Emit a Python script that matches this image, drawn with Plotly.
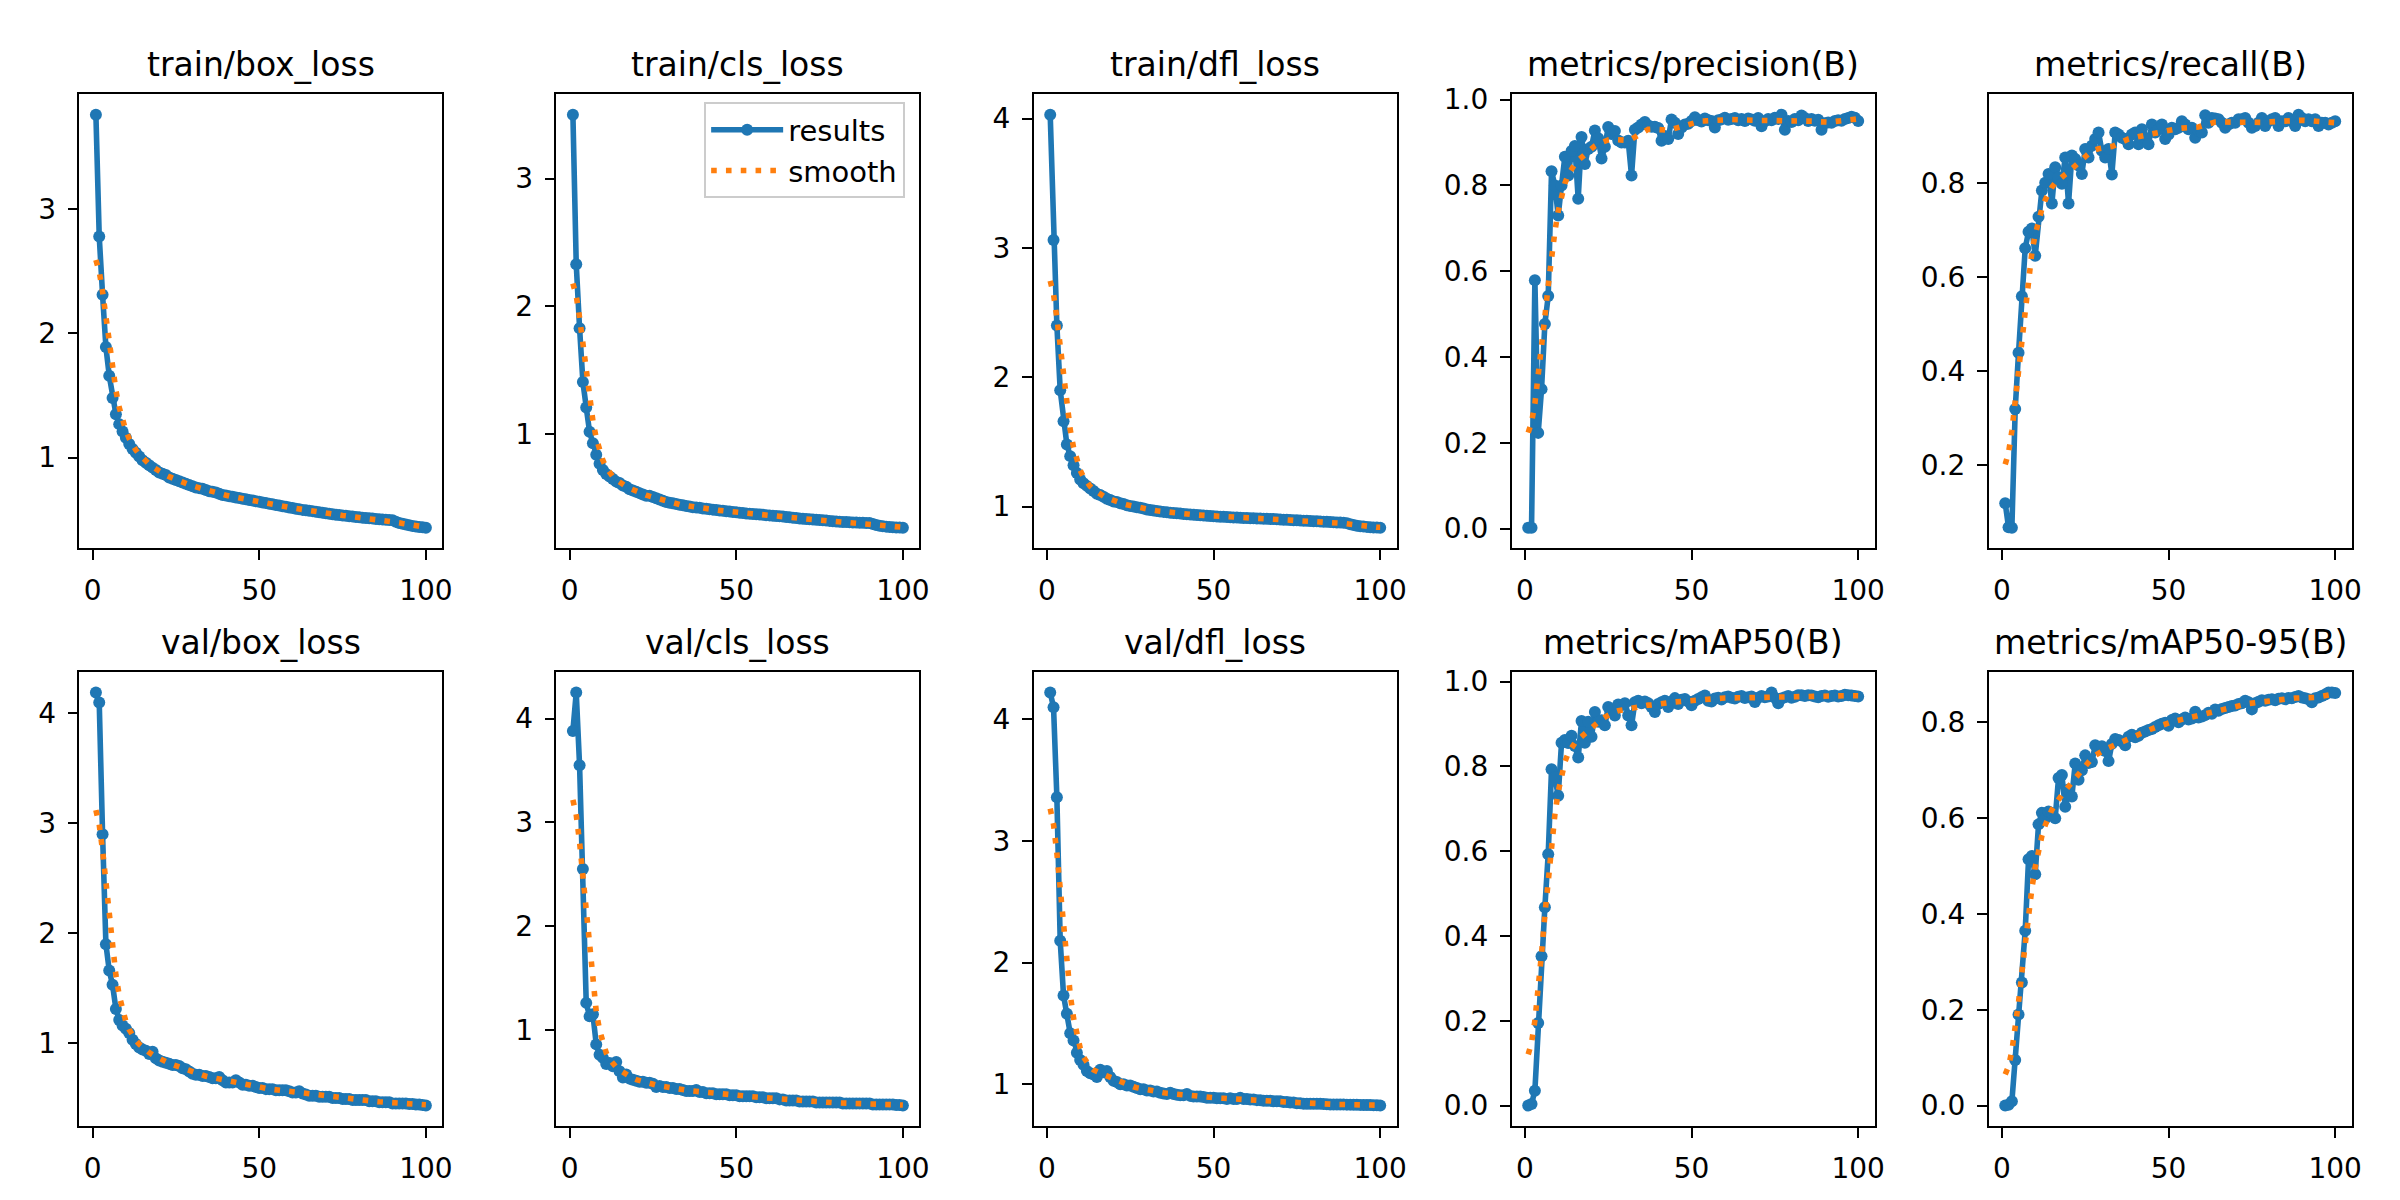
import numpy as np
import plotly.graph_objects as go

# epochs and per-epoch values
epochs = list(range(1, 101))

train_box_loss = [
    3.76, 2.78, 2.31, 1.89, 1.66, 1.48, 1.35, 1.27, 1.21, 1.16,
    1.11, 1.07, 1.04, 1.01, 0.98, 0.96, 0.94, 0.92, 0.90, 0.88,
    0.87, 0.86, 0.84, 0.83, 0.82, 0.81, 0.80, 0.79, 0.78, 0.77,
    0.76, 0.755, 0.75, 0.74, 0.73, 0.725, 0.72, 0.71, 0.70, 0.695,
    0.69, 0.685, 0.68, 0.675, 0.67, 0.665, 0.66, 0.655, 0.65, 0.645,
    0.64, 0.635, 0.63, 0.625, 0.62, 0.615, 0.61, 0.605, 0.60, 0.595,
    0.59, 0.585, 0.58, 0.577, 0.573, 0.57, 0.565, 0.56, 0.556, 0.552,
    0.548, 0.545, 0.541, 0.538, 0.535, 0.532, 0.529, 0.526, 0.523, 0.52,
    0.517, 0.515, 0.512, 0.51, 0.507, 0.505, 0.503, 0.50, 0.498, 0.496,
    0.485, 0.475, 0.468, 0.462, 0.456, 0.451, 0.447, 0.443, 0.44, 0.437,
]
train_cls_loss = [
    3.50, 2.33, 1.83, 1.41, 1.21, 1.02, 0.93, 0.84, 0.77, 0.72,
    0.69, 0.67, 0.65, 0.63, 0.62, 0.60, 0.59, 0.57, 0.56, 0.55,
    0.54, 0.53, 0.52, 0.52, 0.51, 0.50, 0.49, 0.48, 0.47, 0.465,
    0.46, 0.455, 0.45, 0.445, 0.44, 0.435, 0.43, 0.428, 0.425, 0.42,
    0.417, 0.414, 0.411, 0.408, 0.405, 0.402, 0.399, 0.396, 0.393, 0.39,
    0.387, 0.384, 0.381, 0.378, 0.376, 0.374, 0.372, 0.37, 0.368, 0.366,
    0.364, 0.362, 0.36, 0.357, 0.354, 0.351, 0.348, 0.345, 0.342, 0.339,
    0.337, 0.335, 0.333, 0.331, 0.329, 0.327, 0.325, 0.323, 0.321, 0.319,
    0.317, 0.315, 0.314, 0.312, 0.311, 0.31, 0.309, 0.308, 0.307, 0.306,
    0.298, 0.29, 0.285, 0.281, 0.278, 0.276, 0.274, 0.272, 0.271, 0.27,
]
train_dfl_loss = [
    4.03, 3.06, 2.40, 1.90, 1.66, 1.48, 1.39, 1.32, 1.26, 1.21,
    1.18, 1.16, 1.14, 1.12, 1.10, 1.09, 1.075, 1.06, 1.05, 1.04,
    1.035, 1.025, 1.02, 1.01, 1.005, 1.0, 0.995, 0.99, 0.985, 0.978,
    0.973, 0.97, 0.966, 0.962, 0.959, 0.956, 0.953, 0.951, 0.948, 0.946,
    0.943, 0.941, 0.939, 0.937, 0.935, 0.933, 0.931, 0.929, 0.927, 0.925,
    0.924, 0.922, 0.921, 0.919, 0.918, 0.916, 0.915, 0.914, 0.912, 0.911,
    0.91, 0.909, 0.908, 0.907, 0.906, 0.905, 0.904, 0.903, 0.902, 0.90,
    0.899, 0.898, 0.897, 0.895, 0.894, 0.893, 0.891, 0.89, 0.888, 0.887,
    0.886, 0.884, 0.883, 0.882, 0.88, 0.879, 0.877, 0.876, 0.874, 0.872,
    0.864, 0.857, 0.852, 0.848, 0.845, 0.843, 0.841, 0.839, 0.838, 0.837,
]
precision = [
    0.002, 0.002, 0.579, 0.223, 0.325, 0.477, 0.542, 0.833, 0.80, 0.73,
    0.80, 0.867, 0.823, 0.88, 0.892, 0.769, 0.913, 0.85, 0.885, 0.89,
    0.928, 0.91, 0.863, 0.89, 0.936, 0.92, 0.927, 0.905, 0.90, 0.90,
    0.904, 0.823, 0.93, 0.935, 0.942, 0.948, 0.94, 0.937, 0.937, 0.934,
    0.904, 0.915, 0.908, 0.954, 0.946, 0.92, 0.935, 0.942, 0.944, 0.95,
    0.959, 0.952, 0.949, 0.956, 0.952, 0.95, 0.935, 0.952, 0.954, 0.958,
    0.953, 0.955, 0.957, 0.952, 0.955, 0.95, 0.956, 0.954, 0.951, 0.957,
    0.938, 0.95, 0.955, 0.952, 0.958, 0.955, 0.965, 0.93, 0.95, 0.948,
    0.955, 0.952, 0.963, 0.957, 0.95, 0.955, 0.951, 0.953, 0.93, 0.945,
    0.947, 0.946, 0.95, 0.952, 0.951, 0.955, 0.957, 0.96, 0.958, 0.95,
]
recall = [
    0.119, 0.068, 0.067, 0.319, 0.439, 0.559, 0.661, 0.696, 0.703, 0.645,
    0.728, 0.784, 0.80, 0.819, 0.756, 0.833, 0.812, 0.798, 0.854, 0.756,
    0.858, 0.851, 0.837, 0.819, 0.872, 0.854, 0.879, 0.893, 0.907, 0.868,
    0.854, 0.872, 0.818, 0.907, 0.903, 0.896, 0.893, 0.882, 0.903, 0.907,
    0.882, 0.914, 0.896, 0.882, 0.924, 0.907, 0.914, 0.924, 0.893, 0.903,
    0.917, 0.914, 0.917, 0.931, 0.924, 0.914, 0.917, 0.896, 0.91, 0.907,
    0.944, 0.928, 0.938, 0.937, 0.935, 0.928, 0.917, 0.924, 0.928, 0.928,
    0.935, 0.935, 0.938, 0.928, 0.917, 0.921, 0.928, 0.938, 0.921, 0.931,
    0.935, 0.938, 0.921, 0.931, 0.931, 0.938, 0.931, 0.921, 0.945, 0.938,
    0.931, 0.935, 0.931, 0.935, 0.921, 0.928, 0.928, 0.924, 0.928, 0.931,
]
val_box_loss = [
    4.19, 4.10, 2.90, 1.90, 1.66, 1.53, 1.31, 1.21, 1.16, 1.13,
    1.09, 1.03, 0.99, 0.96, 0.94, 0.93, 0.90, 0.92, 0.86, 0.84,
    0.83, 0.82, 0.81, 0.80, 0.80, 0.79, 0.77, 0.76, 0.74, 0.72,
    0.71, 0.71, 0.70, 0.70, 0.69, 0.68, 0.68, 0.69, 0.66, 0.64,
    0.64, 0.64, 0.66, 0.64, 0.62, 0.62, 0.61, 0.61, 0.60, 0.59,
    0.59, 0.58, 0.58, 0.58, 0.57, 0.57, 0.57, 0.57, 0.56, 0.55,
    0.55, 0.56, 0.54, 0.53, 0.52, 0.52, 0.52, 0.51, 0.51, 0.51,
    0.51, 0.50, 0.50, 0.50, 0.49, 0.49, 0.49, 0.48, 0.48, 0.48,
    0.48, 0.48, 0.47, 0.47, 0.47, 0.46, 0.46, 0.46, 0.46, 0.45,
    0.45, 0.45, 0.45, 0.45, 0.445, 0.445, 0.44, 0.44, 0.435, 0.43,
]
val_cls_loss = [
    3.88, 4.25, 3.55, 2.55, 1.26, 1.13, 1.15, 0.86, 0.76, 0.73,
    0.67, 0.68, 0.65, 0.69, 0.60, 0.54, 0.57, 0.53, 0.52, 0.51,
    0.50, 0.50, 0.49, 0.49, 0.48, 0.45, 0.46, 0.45, 0.45, 0.44,
    0.44, 0.43, 0.43, 0.42, 0.41, 0.41, 0.41, 0.42, 0.40, 0.40,
    0.39, 0.39, 0.39, 0.38, 0.38, 0.38, 0.38, 0.37, 0.37, 0.37,
    0.36, 0.36, 0.36, 0.36, 0.36, 0.35, 0.35, 0.35, 0.34, 0.34,
    0.34, 0.34, 0.33, 0.33, 0.32, 0.32, 0.32, 0.32, 0.31, 0.31,
    0.31, 0.31, 0.31, 0.30, 0.30, 0.30, 0.30, 0.30, 0.30, 0.30,
    0.30, 0.29, 0.29, 0.29, 0.29, 0.29, 0.29, 0.29, 0.29, 0.29,
    0.28, 0.28, 0.28, 0.28, 0.28, 0.28, 0.28, 0.275, 0.275, 0.27,
]
val_dfl_loss = [
    4.22, 4.10, 3.36, 2.18, 1.73, 1.58, 1.42, 1.36, 1.26, 1.20,
    1.16, 1.11, 1.09, 1.08, 1.06, 1.12, 1.10, 1.11, 1.06, 1.03,
    1.02, 1.00, 1.00, 0.99, 0.99, 0.98, 0.97, 0.96, 0.96, 0.95,
    0.95, 0.94, 0.94, 0.93, 0.925, 0.92, 0.93, 0.92, 0.915, 0.91,
    0.91, 0.92, 0.905, 0.90, 0.90, 0.90, 0.895, 0.89, 0.89, 0.89,
    0.885, 0.885, 0.885, 0.88, 0.885, 0.88, 0.88, 0.89, 0.88, 0.88,
    0.875, 0.875, 0.87, 0.87, 0.865, 0.865, 0.865, 0.86, 0.86, 0.86,
    0.855, 0.855, 0.85, 0.85, 0.845, 0.845, 0.84, 0.84, 0.84, 0.84,
    0.84, 0.84, 0.838, 0.836, 0.835, 0.835, 0.835, 0.834, 0.834, 0.833,
    0.833, 0.832, 0.832, 0.831, 0.83, 0.83, 0.83, 0.828, 0.827, 0.825,
]
map50 = [
    0.0, 0.004, 0.035, 0.195, 0.352, 0.468, 0.593, 0.793, 0.775, 0.731,
    0.856, 0.862, 0.855, 0.872, 0.848, 0.821, 0.907, 0.856, 0.905, 0.87,
    0.928, 0.905, 0.909, 0.897, 0.94, 0.932, 0.92, 0.946, 0.944, 0.949,
    0.92, 0.897, 0.951, 0.955, 0.949, 0.953, 0.949, 0.94, 0.928, 0.947,
    0.951, 0.955, 0.94, 0.953, 0.961, 0.947, 0.957, 0.959, 0.953, 0.944,
    0.955, 0.959, 0.963, 0.967, 0.955, 0.953, 0.96, 0.962, 0.958, 0.963,
    0.965, 0.962, 0.96, 0.964, 0.966, 0.961, 0.963, 0.965, 0.952, 0.962,
    0.966, 0.963, 0.965, 0.974, 0.962, 0.949, 0.96, 0.963, 0.966, 0.962,
    0.964, 0.968, 0.968, 0.966, 0.968, 0.967, 0.965, 0.963, 0.966, 0.967,
    0.964, 0.966, 0.967, 0.965, 0.966, 0.969, 0.968, 0.967, 0.966, 0.965,
]
map50_95 = [
    0.0, 0.002, 0.009, 0.095, 0.19, 0.257, 0.365, 0.514, 0.521, 0.483,
    0.587, 0.611, 0.60, 0.614, 0.61, 0.60, 0.684, 0.69, 0.624, 0.66,
    0.645, 0.714, 0.68, 0.70, 0.731, 0.715, 0.717, 0.752, 0.745, 0.75,
    0.74, 0.719, 0.755, 0.765, 0.763, 0.76, 0.752, 0.77, 0.774, 0.769,
    0.772, 0.778, 0.781, 0.784, 0.786, 0.79, 0.794, 0.797, 0.799, 0.793,
    0.805, 0.808, 0.80, 0.806, 0.81, 0.806, 0.808, 0.822, 0.81, 0.812,
    0.815, 0.82, 0.818, 0.827, 0.824, 0.828, 0.83, 0.832, 0.834, 0.835,
    0.838, 0.84, 0.845, 0.842, 0.827, 0.84, 0.843, 0.846, 0.845, 0.847,
    0.848, 0.846, 0.849, 0.85, 0.848, 0.851, 0.85, 0.853, 0.855, 0.852,
    0.85, 0.848, 0.842, 0.85, 0.852, 0.855, 0.858, 0.862, 0.862, 0.861,
]

titles = [
    "train/box_loss", "train/cls_loss", "train/dfl_loss", "metrics/precision(B)", "metrics/recall(B)",
    "val/box_loss", "val/cls_loss", "val/dfl_loss", "metrics/mAP50(B)", "metrics/mAP50-95(B)",
]
series = [
    train_box_loss, train_cls_loss, train_dfl_loss, precision, recall,
    val_box_loss, val_cls_loss, val_dfl_loss, map50, map50_95,
]
y_ticks = [
    [1, 2, 3], [1, 2, 3], [1, 2, 3, 4], [0.0, 0.2, 0.4, 0.6, 0.8, 1.0], [0.2, 0.4, 0.6, 0.8],
    [1, 2, 3, 4], [1, 2, 3, 4], [1, 2, 3, 4], [0.0, 0.2, 0.4, 0.6, 0.8, 1.0], [0.0, 0.2, 0.4, 0.6, 0.8],
]
x_ticks = [0, 50, 100]

BLUE = "#1f77b4"
ORANGE = "#ff7f0e"
FONT = "DejaVu Sans"
W, H = 2400, 1200


def gaussian_smooth(y, sigma=3.0):
    # same as scipy gaussian_filter1d(mode="reflect")
    r = int(4 * sigma + 0.5)
    k = np.exp(-0.5 * (np.arange(-r, r + 1) / sigma) ** 2)
    k /= k.sum()
    return np.convolve(np.pad(np.asarray(y, float), r, mode="symmetric"), k, mode="valid")


# axes boxes in pixels (left, top) of the matplotlib figure
col_left = [71.7, 550.7, 1030.0, 1510.0, 1989.0]
ax_w = 364.5
row_top = [75.7, 659.0]
ax_h = 458.5

fig = go.Figure()
layout = {}
annotations = []

xr = [min(epochs) - 0.05 * (max(epochs) - min(epochs)), max(epochs) + 0.05 * (max(epochs) - min(epochs))]

for i, (title, y) in enumerate(zip(titles, series)):
    n = i + 1
    r, c = divmod(i, 5)
    xa = "x" if n == 1 else f"x{n}"
    ya = "y" if n == 1 else f"y{n}"
    ys = gaussian_smooth(y)

    show = (i == 1)
    fig.add_trace(go.Scatter(
        x=epochs, y=y, mode="lines+markers", name="results",
        line=dict(color=BLUE, width=5.6), marker=dict(color=BLUE, size=12),
        xaxis=xa, yaxis=ya, showlegend=show,
    ))
    fig.add_trace(go.Scatter(
        x=epochs, y=ys, mode="lines", name="smooth",
        line=dict(color=ORANGE, width=5.6, dash="5.6px,9.2px"),
        xaxis=xa, yaxis=ya, showlegend=show,
    ))

    lo = min(min(y), ys.min())
    hi = max(max(y), ys.max())
    pad = 0.05 * (hi - lo)

    x0 = col_left[c] / W
    x1 = (col_left[c] + ax_w) / W
    y1 = 1 - row_top[r] / H
    y0 = 1 - (row_top[r] + ax_h) / H

    common = dict(
        showline=True, mirror=True, linecolor="black", linewidth=2.2,
        ticks="outside", ticklen=9.7, tickwidth=2.2, tickcolor="black",
        showgrid=False, zeroline=False, ticklabelstandoff=6,
        tickfont=dict(family=FONT, size=28, color="black"),
    )
    layout["xaxis" if n == 1 else f"xaxis{n}"] = dict(
        domain=[x0, x1], anchor=ya, range=xr, tickvals=x_ticks, **common,
    )
    fmt = "d" if isinstance(y_ticks[i][0], int) else ".1f"
    layout["yaxis" if n == 1 else f"yaxis{n}"] = dict(
        domain=[y0, y1], anchor=xa, range=[lo - pad, hi + pad],
        tickvals=y_ticks[i], tickformat=fmt, **common,
    )
    annotations.append(dict(
        text=title, x=(x0 + x1) / 2, y=y1, xref="paper", yref="paper",
        xanchor="center", yanchor="bottom", yshift=8, showarrow=False,
        font=dict(family=FONT, size=33, color="black"),
    ))

fig.update_layout(
    **layout,
    annotations=annotations,
    width=W, height=H,
    margin=dict(l=0, r=0, t=0, b=0),
    paper_bgcolor="white", plot_bgcolor="white",
    font=dict(family=FONT, color="black"),
    legend=dict(
        x=900.7 / W, y=1 - 84 / H, xanchor="right", yanchor="top",
        bgcolor="rgba(255,255,255,0.8)", bordercolor="#cccccc", borderwidth=2.2,
        font=dict(family=FONT, size=29, color="black"),
        itemwidth=72,
    ),
)

fig.write_html("out.html")
